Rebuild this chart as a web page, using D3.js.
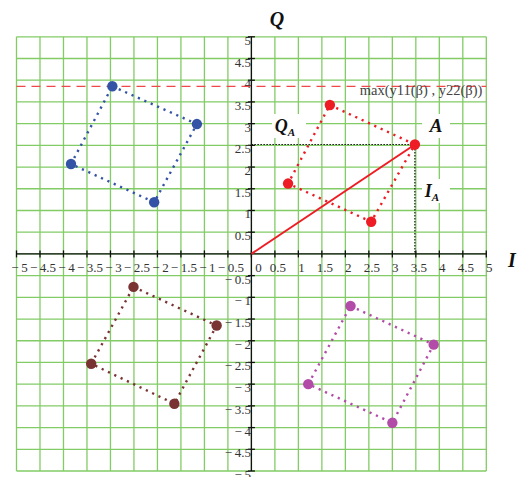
<!DOCTYPE html>
<html>
<head>
<meta charset="utf-8">
<script src="https://cdn.jsdelivr.net/npm/d3@7"></script>
<style>
  html, body { margin: 0; padding: 0; background: #fff; }
  svg { display: block; }
</style>
</head>
<body>
<svg id="chart" width="520" height="477"></svg>
<script>
// Tick values shared by both axes (grid every 0.5)
const tickValues = [-5, -4.5, -4, -3.5, -3, -2.5, -2, -1.5, -1, -0.5, 0, 0.5, 1, 1.5, 2, 2.5, 3, 3.5, 4, 4.5, 5];

// Constellation clusters: four points each, in drawing order (I, Q)
const blueI = [-2.96, -1.16, -2.07, -3.84];
const blueQ = [3.86, 2.99, 1.19, 2.07];
const redI = [1.67, 3.48, 2.55, 0.78];
const redQ = [3.43, 2.52, 0.74, 1.62];
const brownI = [-2.51, -0.74, -1.64, -3.41];
const brownQ = [-0.76, -1.65, -3.45, -2.53];
const magentaI = [2.11, 3.88, 3.00, 1.21];
const magentaQ = [-1.20, -2.09, -3.89, -3.00];

// Highlighted point A and the max level
const pointA = [3.48, 2.52];
const maxLevel = 3.86;
const maxLabel = "max(y11(\u03B2) , y22(\u03B2))";

const clusters = [
  { I: blueI, Q: blueQ, color: "#3553a6" },
  { I: redI, Q: redQ, color: "#ee1c25" },
  { I: brownI, Q: brownQ, color: "#7a3333" },
  { I: magentaI, Q: magentaQ, color: "#b24ca8" }
];

const svg = d3.select("#chart");
const x = d3.scaleLinear().domain([-5, 5]).range([16.5, 486.3]);
const y = d3.scaleLinear().domain([-5, 5]).range([471, 36.8]);
const serif = "'Liberation Serif', 'DejaVu Serif', serif";

// Grid
const grid = svg.append("g").attr("stroke", "#82cc66").attr("stroke-width", 1.3);
grid.selectAll("line.v").data(tickValues).join("line")
  .attr("class", "v")
  .attr("x1", d => x(d)).attr("x2", d => x(d))
  .attr("y1", y(5)).attr("y2", y(-5));
grid.selectAll("line.h").data(tickValues).join("line")
  .attr("class", "h")
  .attr("y1", d => y(d)).attr("y2", d => y(d))
  .attr("x1", x(-5)).attr("x2", x(5));

// Axes through the origin
const x0 = x(0), y0 = y(0);
const axes = svg.append("g").attr("stroke", "#111").attr("stroke-width", 1.3);
axes.append("line").attr("x1", x(-5)).attr("x2", x(5)).attr("y1", y0).attr("y2", y0);
axes.append("line").attr("x1", x0).attr("x2", x0).attr("y1", y(5)).attr("y2", y(-5));
axes.selectAll("line.xt").data(tickValues).join("line")
  .attr("class", "xt")
  .attr("x1", d => x(d)).attr("x2", d => x(d))
  .attr("y1", y0 - 3.5).attr("y2", y0 + 3.5);
axes.selectAll("line.yt").data(tickValues.filter(d => d !== 0)).join("line")
  .attr("class", "yt")
  .attr("y1", d => y(d)).attr("y2", d => y(d))
  .attr("x1", x0 - 3.5).attr("x2", x0 + 3.5);

const fmt = d => d < 0 ? "\u2212\u2009" + Math.abs(d) : String(d);

// Tick labels
const labels = svg.append("g").attr("font-family", serif).attr("font-size", 13).attr("fill", "#333");
labels.selectAll("text.xl").data(tickValues).join("text")
  .attr("class", "xl")
  .attr("x", d => d === 0 ? x(d) + 7 : x(d) + 3)
  .attr("y", y0 + 18.5)
  .attr("text-anchor", "middle")
  .text(fmt);
labels.selectAll("text.yl").data(tickValues.filter(d => d !== 0)).join("text")
  .attr("class", "yl")
  .attr("x", x0 - 0.5)
  .attr("y", d => y(d) + 8)
  .attr("text-anchor", "end")
  .text(fmt);

// Max level dashed line and its label
svg.append("line")
  .attr("x1", x(-5)).attr("x2", x(5))
  .attr("y1", y(maxLevel)).attr("y2", y(maxLevel))
  .attr("stroke", "#f0474a").attr("stroke-width", 1.2)
  .attr("stroke-dasharray", "9,6");
svg.append("text")
  .attr("x", x(5) - 4).attr("y", y(maxLevel) + 9)
  .attr("text-anchor", "end")
  .attr("font-family", serif).attr("font-size", 14.5).attr("fill", "#444")
  .text(maxLabel);

// Projections of A onto the axes
svg.append("path")
  .attr("d", `M${x(0)},${y(pointA[1])}H${x(pointA[0])}V${y(0)}`)
  .attr("fill", "none").attr("stroke", "#111").attr("stroke-width", 1.2)
  .attr("stroke-dasharray", "1.5,1.5");

// Vector from origin to A
svg.append("line")
  .attr("x1", x(0)).attr("y1", y(0))
  .attr("x2", x(pointA[0])).attr("y2", y(pointA[1]))
  .attr("stroke", "#ee1c25").attr("stroke-width", 2);

// Clusters: dotted outline plus markers
const line = d3.line().x(d => x(d[0])).y(d => y(d[1])).curve(d3.curveLinearClosed);
clusters.forEach(c => {
  const pts = c.I.map((v, i) => [v, c.Q[i]]);
  svg.append("path")
    .attr("d", line(pts))
    .attr("fill", "none").attr("stroke", c.color)
    .attr("stroke-width", 2.4).attr("stroke-dasharray", "2.2,4.8");
  svg.append("g").selectAll("circle").data(pts).join("circle")
    .attr("cx", d => x(d[0])).attr("cy", d => y(d[1])).attr("r", 5.2)
    .attr("fill", c.color);
});

// Annotation labels with white boxes
function boxedLabel(cx, cy, w, h, main, sub, size) {
  svg.append("rect").attr("x", cx - w / 2).attr("y", cy - h / 2)
    .attr("width", w).attr("height", h).attr("fill", "#fff");
  const t = svg.append("text")
    .attr("x", cx - (sub ? 4 : 0)).attr("y", cy + size * 0.34)
    .attr("text-anchor", "middle")
    .attr("font-family", serif).attr("font-size", size)
    .attr("font-weight", "bold").attr("font-style", "italic").attr("fill", "#111");
  t.append("tspan").text(main);
  if (sub) t.append("tspan").attr("font-size", size * 0.62).attr("dy", 4).text(sub);
}
boxedLabel(436, 126, 28, 24, "A", null, 19);
boxedLabel(289, 126, 34, 24, "Q", "A", 18);
boxedLabel(436, 191, 28, 24, "I", "A", 18);

// Axis titles
svg.append("text").attr("x", 277).attr("y", 26)
  .attr("text-anchor", "middle")
  .attr("font-family", serif).attr("font-size", 20)
  .attr("font-weight", "bold").attr("font-style", "italic").attr("fill", "#111")
  .text("Q");
svg.append("text").attr("x", 512).attr("y", 267)
  .attr("text-anchor", "middle")
  .attr("font-family", serif).attr("font-size", 20)
  .attr("font-weight", "bold").attr("font-style", "italic").attr("fill", "#111")
  .text("I");
</script>
</body>
</html>
